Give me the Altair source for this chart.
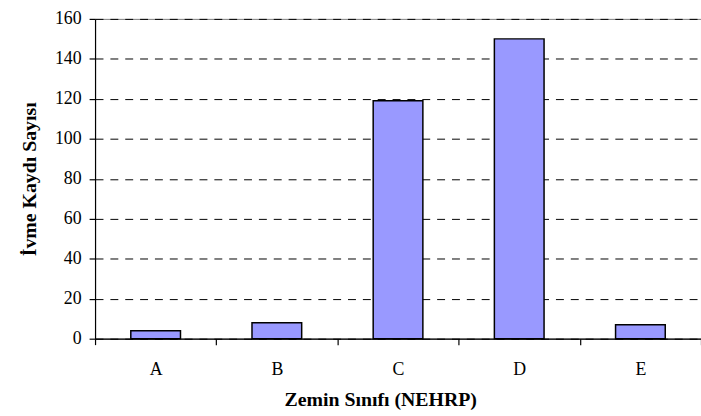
import altair as alt
import pandas as pd

categories = ["A", "B", "C", "D", "E"]
counts = [4, 8, 119, 150, 7]
y_ticks = [0, 20, 40, 60, 80, 100, 120, 140, 160]

df = pd.DataFrame({"zemin": categories, "sayi": counts})

FONT = "Liberation Serif"

chart = alt.Chart(df).mark_bar(
    color="#9999FF", stroke="black", strokeWidth=1.5,
    width=alt.RelativeBandSize(0.41)
).encode(
    x=alt.X("zemin:N", sort=categories, title="Zemin Sınıfı (NEHRP)",
            scale=alt.Scale(paddingInner=0, paddingOuter=0),
            axis=alt.Axis(labelAngle=0, tickBand="extent", grid=False,
                          labelFontSize=18, labelPadding=16, tickSize=6,
                          titleFontSize=20, titleFontWeight="bold",
                          titleY=51, titleBaseline="top", titleX=288)),
    y=alt.Y("sayi:Q", title="İvme Kaydı Sayısı",
            scale=alt.Scale(domain=[0, 160], nice=False),
            axis=alt.Axis(values=y_ticks, grid=True, gridDash=[8, 7],
                          gridColor="black", gridWidth=1,
                          labelFontSize=18, labelPadding=8, tickSize=6,
                          titleFontSize=20, titleFontWeight="bold",
                          titlePadding=15)),
).properties(
    width=612, height=323,
    padding={"left": 96, "top": 17, "right": 0, "bottom": 76},
    autosize=alt.AutoSizeParams(type="none"),
).configure_axis(
    labelFont=FONT, titleFont=FONT, labelColor="black", titleColor="black",
    domainColor="black", tickColor="black", domainWidth=1.2, tickWidth=1.2,
).configure_view(stroke="#808080")

chart.save("out.html", embed_options={"renderer": "svg", "actions": False})
